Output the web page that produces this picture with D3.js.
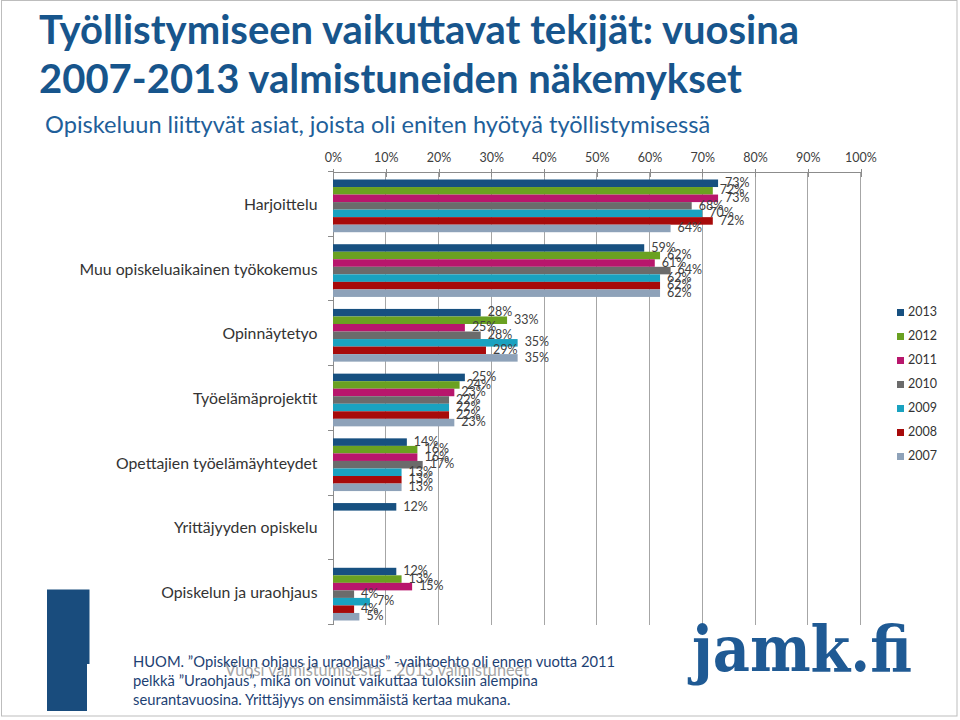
<!DOCTYPE html>
<html>
<head>
<meta charset="utf-8">
<script src="https://cdn.jsdelivr.net/npm/d3@7"></script>
<style>
  html, body { margin: 0; padding: 0; background: #fff; }
  svg { display: block; font-family: Lato, "Open Sans", sans-serif; }
</style>
</head>
<body>
<svg id="chart" width="960" height="720"></svg>
<script>
// ---- data ----
const categories = [
  "Harjoittelu",
  "Muu opiskeluaikainen työkokemus",
  "Opinnäytetyo",
  "Työelämäprojektit",
  "Opettajien työelämäyhteydet",
  "Yrittäjyyden opiskelu",
  "Opiskelun ja uraohjaus"
];
const years = ["2013", "2012", "2011", "2010", "2009", "2008", "2007"];
const v2013 = [73, 59, 28, 25, 14, 12, 12];
const v2012 = [72, 62, 33, 24, 16, null, 13];
const v2011 = [73, 61, 25, 23, 16, null, 15];
const v2010 = [68, 64, 28, 22, 17, null, 4];
const v2009 = [70, 62, 35, 22, 13, null, 7];
const v2008 = [72, 62, 29, 22, 13, null, 4];
const v2007 = [64, 62, 35, 23, 13, null, 5];
const seriesValues = [v2013, v2012, v2011, v2010, v2009, v2008, v2007];
const seriesColors = ["#175080", "#6aa121", "#b8166c", "#6b6b6b", "#1aa2c0", "#a70a0a", "#8ea2b9"];
const xTickValues = [0, 10, 20, 30, 40, 50, 60, 70, 80, 90, 100];

const titleLines = ["Työllistymiseen vaikuttavat tekijät: vuosina", "2007-2013 valmistuneiden näkemykset"];
const subtitle = "Opiskeluun liittyvät asiat, joista oli eniten hyötyä työllistymisessä";
const noteLines = [
  "HUOM. ”Opiskelun ohjaus ja uraohjaus” -vaihtoehto oli ennen vuotta 2011",
  "pelkkä ”Uraohjaus”, mikä on voinut vaikuttaa tuloksiin alempina",
  "seurantavuosina. Yrittäjyys on ensimmäistä kertaa mukana."
];
const axisTitle = "Vuosi valmistumisesta - 2013 valmistuneet";

// ---- layout ----
const svg = d3.select("#chart");
const plot = { left: 333, right: 860.5, top: 171.5, bottom: 624.5 };

// frame
svg.append("rect").attr("x", 1.5).attr("y", 0.5).attr("width", 955.5).attr("height", 715.5)
  .attr("fill", "#fff").attr("stroke", "#bdbdbd").attr("stroke-width", 1);

// titles
svg.append("g").selectAll("text").data(titleLines).join("text")
  .attr("x", 39).attr("y", (d, i) => 44 + i * 49)
  .attr("font-size", 40).attr("font-weight", 700).attr("fill", "#17558c")
  .text(d => d);
svg.append("text").attr("x", 45).attr("y", 132.5)
  .attr("font-size", 23.6).attr("fill", "#1f5f9a").text(subtitle);

const x = d3.scaleLinear().domain([0, 100]).range([plot.left, plot.right]);
const y0 = d3.scaleBand().domain(categories).range([plot.top, plot.bottom]).padding(0);
const bw = y0.bandwidth();
const y1 = d3.scaleBand().domain(years).range([8, bw - 4]).padding(0);

// gridlines
svg.append("g").selectAll("line").data(xTickValues.slice(1)).join("line")
  .attr("x1", d => x(d)).attr("x2", d => x(d))
  .attr("y1", plot.top).attr("y2", plot.bottom)
  .attr("stroke", "#a6a6a6").attr("stroke-width", 1).attr("shape-rendering", "crispEdges");

// top axis
const topAxis = svg.append("g").attr("transform", `translate(0,${plot.top})`)
  .call(d3.axisTop(x).tickValues(xTickValues).tickFormat(d => d + "%").tickSize(0).tickPadding(10));
topAxis.select(".domain").attr("stroke", "#8c8c8c").attr("shape-rendering", "crispEdges");
topAxis.selectAll(".tick text").attr("font-size", 12.5).attr("fill", "#404040")
  .style("font-family", "Lato, sans-serif");
topAxis.selectAll(".tick").append("line")
  .attr("y1", -3).attr("y2", 5).attr("stroke", "#8c8c8c").attr("shape-rendering", "crispEdges");

// left axis
const leftAxis = svg.append("g").attr("transform", `translate(${plot.left},0)`)
  .call(d3.axisLeft(y0).tickSize(0).tickFormat(""));
leftAxis.select(".domain").attr("stroke", "#8c8c8c").attr("shape-rendering", "crispEdges");
const bandEdges = categories.map(c => y0(c)).concat([plot.bottom]);
svg.append("g").selectAll("line").data(bandEdges).join("line")
  .attr("x1", plot.left - 5).attr("x2", plot.left)
  .attr("y1", d => d).attr("y2", d => d)
  .attr("stroke", "#8c8c8c").attr("shape-rendering", "crispEdges");

// category labels
svg.append("g").selectAll("text").data(categories).join("text")
  .attr("x", plot.left - 15.5)
  .attr("y", c => y0(c) + (8 + bw - 4) / 2)
  .attr("text-anchor", "end").attr("dominant-baseline", "middle")
  .attr("font-size", 15.8).attr("fill", "#333")
  .text(c => c);

// bars
const barData = [];
categories.forEach((c, ci) => {
  years.forEach((yr, si) => {
    const v = seriesValues[si][ci];
    if (v != null) barData.push({ c, yr, v, color: seriesColors[si] });
  });
});
const gBars = svg.append("g");
gBars.selectAll("rect").data(barData).join("rect")
  .attr("x", x(0))
  .attr("y", d => y0(d.c) + y1(d.yr))
  .attr("width", d => x(d.v) - x(0))
  .attr("height", y1.bandwidth())
  .attr("fill", d => d.color);
gBars.selectAll("text").data(barData).join("text")
  .attr("x", d => x(d.v) + 7)
  .attr("y", d => y0(d.c) + y1(d.yr) + y1.bandwidth() / 2 + 0.5)
  .attr("dominant-baseline", "middle")
  .attr("font-size", 12.5).attr("fill", "#404040")
  .text(d => d.v + "%");

// legend
const legend = svg.append("g").selectAll("g").data(years).join("g")
  .attr("transform", (d, i) => `translate(897,${312.5 + i * 24})`);
legend.append("rect").attr("x", 0).attr("y", -3.5).attr("width", 7).attr("height", 7)
  .attr("fill", (d, i) => seriesColors[i]);
legend.append("text").attr("x", 11).attr("y", 0.5).attr("dominant-baseline", "middle")
  .attr("font-size", 12.5).attr("fill", "#333").text(d => d);

// left decorative block
svg.append("rect").attr("x", 47).attr("y", 589.5).attr("width", 42.5).attr("height", 74.5).attr("fill", "#194c7d");
svg.append("rect").attr("x", 47).attr("y", 664).attr("width", 40).attr("height", 47).attr("fill", "#194c7d");

// faded axis title
svg.append("text").attr("x", 225).attr("y", 676).attr("font-size", 16.3).attr("fill", "#a6a6a6").text(axisTitle);

// note
svg.append("g").selectAll("text").data(noteLines).join("text")
  .attr("x", 133).attr("y", (d, i) => 667 + i * 19)
  .attr("font-size", 14.75).attr("fill", "#1d3f73")
  .text(d => d);

// logo
svg.append("text").attr("x", 692).attr("y", 671)
  .style("font-family", "'DejaVu Serif', serif").attr("font-weight", 700)
  .attr("font-size", 64).attr("fill", "#1f5a94")
  .attr("textLength", 220).attr("lengthAdjust", "spacingAndGlyphs")
  .text("jamk.fi");
</script>
</body>
</html>
